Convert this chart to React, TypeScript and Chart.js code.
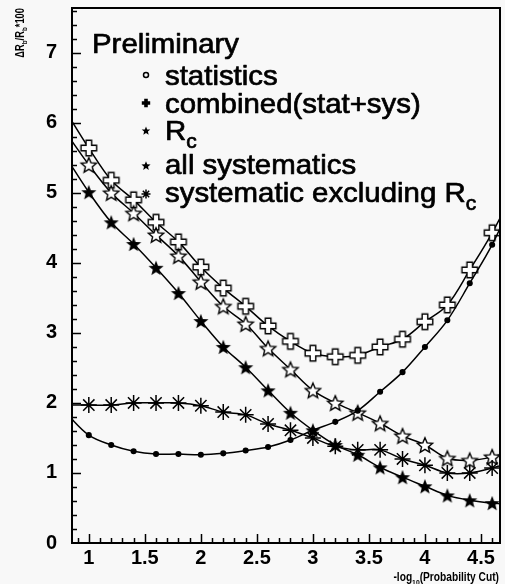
import React, { useEffect, useRef } from "react";
import { Chart, registerables } from "chart.js";

Chart.register(...registerables);

// ---------- data ----------
// first and last x are just outside the frame: they only carry the fitted curves to the frame edges
const xValues = [0.8, 1.0, 1.2, 1.4, 1.6, 1.8, 2.0, 2.2, 2.4, 2.6, 2.8, 3.0, 3.2, 3.4, 3.6, 3.8, 4.0, 4.2, 4.4, 4.6, 4.8];
const statistics = [1.85, 1.54, 1.4, 1.31, 1.27, 1.27, 1.26, 1.28, 1.32, 1.37, 1.47, 1.61, 1.73, 1.89, 2.16, 2.44, 2.8, 3.18, 3.71, 4.26, 4.95];
const combined = [6.15, 5.64, 5.18, 4.9, 4.58, 4.3, 3.94, 3.64, 3.38, 3.1, 2.88, 2.71, 2.66, 2.68, 2.8, 2.91, 3.16, 3.4, 3.9, 4.43, 5.05];
const rcSystematic = [5.5, 5.01, 4.58, 4.27, 3.93, 3.57, 3.17, 2.8, 2.51, 2.18, 1.86, 1.61, 1.4, 1.26, 1.08, 0.94, 0.81, 0.68, 0.61, 0.57, 0.55];
const allSystematics = [5.85, 5.4, 5.0, 4.71, 4.4, 4.1, 3.73, 3.38, 3.13, 2.78, 2.48, 2.18, 2.0, 1.86, 1.71, 1.53, 1.4, 1.21, 1.18, 1.23, 1.33];
const systExclRc = [1.97, 1.97, 1.97, 2.0, 2.0, 2.0, 1.96, 1.87, 1.83, 1.7, 1.61, 1.5, 1.38, 1.33, 1.33, 1.2, 1.11, 1.0, 1.0, 1.07, 1.17];

const xTickValues = [1, 1.5, 2, 2.5, 3, 3.5, 4, 4.5];
const yTickValues = [0, 1, 2, 3, 4, 5, 6, 7];

const legendTitle = "Preliminary";
const legendMain = ["statistics", "combined(stat+sys)", "R", "all systematics", "systematic excluding R"];
const legendSub = ["", "", "c", "", "c"];

const FONT = '"Liberation Sans", Arial, Helvetica, sans-serif';

// ---------- marker drawing ----------
function starPath(ctx: CanvasRenderingContext2D, cx: number, cy: number, R: number, r: number) {
  ctx.beginPath();
  for (let i = 0; i < 10; i++) {
    const rad = i % 2 === 0 ? R : r;
    const a = -Math.PI / 2 + (i * Math.PI) / 5;
    const px = cx + rad * Math.cos(a);
    const py = cy + rad * Math.sin(a);
    if (i === 0) ctx.moveTo(px, py);
    else ctx.lineTo(px, py);
  }
  ctx.closePath();
}

function crossPath(ctx: CanvasRenderingContext2D, cx: number, cy: number, R: number, w: number) {
  const p = [
    [-w, -R], [w, -R], [w, -w], [R, -w], [R, w], [w, w], [w, R], [-w, R], [-w, w], [-R, w], [-R, -w], [-w, -w],
  ];
  ctx.beginPath();
  p.forEach(([dx, dy], i) => {
    if (i === 0) ctx.moveTo(cx + dx, cy + dy);
    else ctx.lineTo(cx + dx, cy + dy);
  });
  ctx.closePath();
}

function asteriskPath(ctx: CanvasRenderingContext2D, cx: number, cy: number, R: number) {
  ctx.beginPath();
  for (let i = 0; i < 4; i++) {
    const a = (i * Math.PI) / 4;
    ctx.moveTo(cx - R * Math.cos(a), cy - R * Math.sin(a));
    ctx.lineTo(cx + R * Math.cos(a), cy + R * Math.sin(a));
  }
}

function makeMarker(size: number, draw: (ctx: CanvasRenderingContext2D, c: number) => void) {
  const cv = document.createElement("canvas");
  cv.width = size;
  cv.height = size;
  const ctx = cv.getContext("2d")!;
  draw(ctx, size / 2);
  return cv;
}

function drawRich(
  ctx: CanvasRenderingContext2D,
  main: string,
  sub: string,
  x: number,
  y: number,
  size: number,
  weight: string,
  scaleX: number,
  align: "left" | "right",
  tail = "",
  strokeW = 0
) {
  ctx.save();
  ctx.textBaseline = "alphabetic";
  ctx.textAlign = "left";
  const mainFont = `${weight} ${size}px ${FONT}`;
  const subFont = `${weight} ${Math.round(size * 0.7)}px ${FONT}`;
  ctx.font = mainFont;
  const w1 = ctx.measureText(main).width;
  ctx.font = subFont;
  const w2 = sub ? ctx.measureText(sub).width : 0;
  ctx.font = mainFont;
  const w3 = tail ? ctx.measureText(tail).width : 0;
  const total = (w1 + w2 + w3) * scaleX;
  const startX = align === "left" ? x : x - total;
  ctx.translate(startX, y);
  ctx.scale(scaleX, 1);
  ctx.fillStyle = "#000";
  ctx.strokeStyle = "#000";
  ctx.lineWidth = strokeW;
  ctx.lineJoin = "round";
  const put = (s: string, px: number, py: number) => {
    ctx.fillText(s, px, py);
    if (strokeW > 0) ctx.strokeText(s, px, py);
  };
  ctx.font = mainFont;
  put(main, 0, 0);
  if (sub) {
    ctx.font = subFont;
    put(sub, w1, size * 0.3);
  }
  if (tail) {
    ctx.font = mainFont;
    put(tail, w1 + w2, 0);
  }
  ctx.restore();
}

export default function App() {
  const canvasRef = useRef<HTMLCanvasElement | null>(null);

  useEffect(() => {
    document.body.style.margin = "0";
    const canvas = canvasRef.current;
    if (!canvas) return;

    const hollowCross = makeMarker(20, (ctx, c) => {
      crossPath(ctx, c, c, 7.8, 2.8);
      ctx.fillStyle = "#ffffff";
      ctx.fill();
      ctx.lineWidth = 1.4;
      ctx.strokeStyle = "#000";
      ctx.stroke();
    });
    const hollowStar = makeMarker(20, (ctx, c) => {
      starPath(ctx, c, c + 0.8, 8, 3.6);
      ctx.fillStyle = "#ffffff";
      ctx.fill();
      ctx.lineWidth = 1.4;
      ctx.strokeStyle = "#000";
      ctx.stroke();
    });
    const filledStar = makeMarker(20, (ctx, c) => {
      starPath(ctx, c, c + 0.8, 8, 3.4);
      ctx.fillStyle = "#000";
      ctx.fill();
    });

    const last = xValues.length - 1;
    const radii = (n: number) => xValues.map((v, i) => (i === 0 || i === last ? 0 : n));
    const toPts = (arr: number[]) => xValues.map((x, i) => ({ x, y: arr[i] }));

    const base = {
      borderColor: "#000",
      backgroundColor: "#000",
      borderWidth: 1.5,
      tension: 0.35,
      fill: false,
    };

    const zeroPad = (scale: any) => {
      scale.paddingTop = 0;
      scale.paddingBottom = 0;
      scale.paddingLeft = 0;
      scale.paddingRight = 0;
    };

    const overlay = {
      id: "overlay",
      beforeDraw(chart: any) {
        const ctx = chart.ctx;
        ctx.save();
        ctx.fillStyle = "#f8f8f8";
        ctx.fillRect(0, 0, chart.width, chart.height);
        ctx.restore();
      },
      afterDraw(chart: any) {
        const ctx: CanvasRenderingContext2D = chart.ctx;
        const { left, right, top, bottom } = chart.chartArea;
        const xs = chart.scales.x;
        const ys = chart.scales.y;
        ctx.save();
        ctx.strokeStyle = "#000";
        ctx.lineWidth = 2;
        ctx.strokeRect(left, top, right - left, bottom - top);

        // y ticks (inward)
        ctx.lineWidth = 1.5;
        ctx.beginPath();
        for (let k = 1; k * 0.2 < ys.max; k++) {
          const v = k * 0.2;
          const py = Math.round(ys.getPixelForValue(v)) + 0.5;
          const major = k % 5 === 0;
          ctx.moveTo(left, py);
          ctx.lineTo(left + (major ? 9 : 5), py);
        }
        // x ticks (inward)
        for (let k = Math.ceil(xs.min * 10 + 0.001); k / 10 < xs.max; k++) {
          const v = k / 10;
          const px = Math.round(xs.getPixelForValue(v)) + 0.5;
          const major = k % 5 === 0;
          ctx.moveTo(px, bottom);
          ctx.lineTo(px, bottom - (major ? 9 : 5));
        }
        ctx.stroke();

        // legend
        drawRich(ctx, legendTitle, "", 92, 53, 28, "normal", 1.05, "left", "", 0.7);
        const baselines = [85, 113, 140, 174, 202];
        const markerY = [75, 103, 131, 166, 194];
        legendMain.forEach((t, i) => {
          drawRich(ctx, t, legendSub[i], 165, baselines[i], 28, "normal", 1.05, "left", "", 0.7);
        });
        const mx = 146;
        ctx.strokeStyle = "#000";
        ctx.fillStyle = "#000";
        ctx.lineWidth = 1.5;
        ctx.beginPath();
        ctx.arc(mx, markerY[0], 2.5, 0, Math.PI * 2);
        ctx.stroke();
        crossPath(ctx, mx, markerY[1], 4.2, 1.8);
        ctx.fill();
        starPath(ctx, mx, markerY[2], 4.5, 2);
        ctx.fill();
        starPath(ctx, mx, markerY[3], 4.8, 2.1);
        ctx.fill();
        ctx.lineWidth = 1.5;
        asteriskPath(ctx, mx, markerY[4], 4.5);
        ctx.stroke();

        // y axis title (rotated)
        ctx.save();
        ctx.translate(24, 8);
        ctx.rotate(-Math.PI / 2);
        ctx.scale(0.78, 1);
        ctx.fillStyle = "#000";
        const parts: [string, boolean][] = [["ΔR", false], ["b", true], ["/R", false], ["b", true], ["*100", false]];
        let tw = 0;
        parts.forEach(([s, sub]) => {
          ctx.font = `bold ${sub ? 8 : 12}px ${FONT}`;
          tw += ctx.measureText(s).width;
        });
        let cx = -tw;
        parts.forEach(([s, sub]) => {
          ctx.font = `bold ${sub ? 8 : 12}px ${FONT}`;
          ctx.fillText(s, cx, sub ? 3 : 0);
          cx += ctx.measureText(s).width;
        });
        ctx.restore();

        // x axis title
        drawRich(ctx, "-log", "10", 499, 581, 12, "bold", 0.85, "right", "(Probability Cut)");
        ctx.restore();
      },
    };

    const chart = new Chart(canvas, {
      type: "line",
      data: {
        datasets: [
          {
            ...base,
            label: "statistics",
            data: toPts(statistics),
            pointStyle: "circle",
            pointRadius: radii(2.3),
          },
          {
            ...base,
            label: "systematic excluding Rc",
            data: toPts(systExclRc),
            pointStyle: "star",
            pointRadius: radii(8),
            pointBorderWidth: 1.5,
          },
          {
            ...base,
            label: "Rc",
            data: toPts(rcSystematic),
            pointStyle: filledStar as any,
            pointRadius: radii(6),
          },
          {
            ...base,
            label: "all systematics",
            data: toPts(allSystematics),
            pointStyle: hollowStar as any,
            pointRadius: radii(6),
          },
          {
            ...base,
            label: "combined(stat+sys)",
            data: toPts(combined),
            pointStyle: hollowCross as any,
            pointRadius: radii(6),
          },
        ],
      },
      options: {
        animation: false,
        responsive: false,
        devicePixelRatio: 1,
        layout: { padding: { top: 8, right: 5, left: 0, bottom: 0 } },
        plugins: {
          legend: { display: false },
          tooltip: { enabled: false },
          title: { display: false },
        },
        scales: {
          x: {
            type: "linear",
            min: 0.85,
            max: 4.67,
            grid: { display: false, drawTicks: false },
            border: { display: false },
            afterBuildTicks: (scale: any) => {
              scale.ticks = xTickValues.map((v) => ({ value: v }));
            },
            afterFit: (scale: any) => {
              scale.height = 41;
              zeroPad(scale);
            },
            ticks: {
              autoSkip: false,
              maxRotation: 0,
              padding: 3,
              color: "#000",
              font: { family: FONT, size: 20, weight: "bold" },
              callback: (v: any) => String(v),
            },
          },
          y: {
            type: "linear",
            min: 0,
            max: 7.64,
            grid: { display: false, drawTicks: false },
            border: { display: false },
            afterBuildTicks: (scale: any) => {
              scale.ticks = yTickValues.map((v) => ({ value: v }));
            },
            afterFit: (scale: any) => {
              scale.width = 72;
              zeroPad(scale);
            },
            ticks: {
              autoSkip: false,
              padding: 15,
              color: "#000",
              font: { family: FONT, size: 20, weight: "bold" },
              callback: (v: any) => String(v),
            },
          },
        },
      },
      plugins: [overlay],
    } as any);

    return () => {
      chart.destroy();
    };
  }, []);

  return (
    <div style={{ width: 505, height: 584 }}>
      <canvas ref={canvasRef} width={505} height={584} style={{ display: "block", width: 505, height: 584 }} />
    </div>
  );
}
